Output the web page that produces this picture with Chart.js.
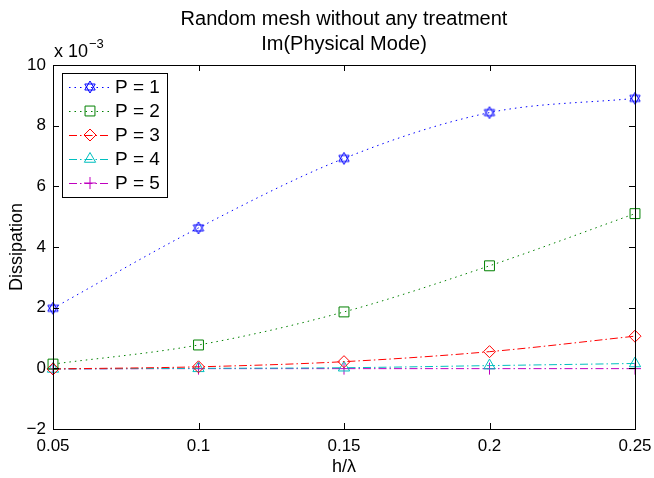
<!DOCTYPE html>
<html lang="en">

<head>
    <meta charset="UTF-8">
    <title>Random mesh without any treatment</title>
    <script src="https://cdn.jsdelivr.net/npm/chart.js"></script>
    <style>
        body { margin: 0; background: #fff; }
    </style>
</head>

<body>
    <canvas id="myChart" width="654" height="478"></canvas>

    <script>
        // data (dissipation in units of 1e-3)
        var hOverLambda = [0.05, 0.1, 0.15, 0.2, 0.25];
        var p1 = [1.98, 4.63, 6.92, 8.43, 8.90];
        var p2 = [0.14, 0.77, 1.86, 3.38, 5.10];
        var p3 = [-0.02, 0.05, 0.22, 0.55, 1.06];
        var p4 = [-0.02, 0.00, 0.02, 0.09, 0.16];
        var p5 = [-0.02, -0.01, -0.01, -0.01, -0.01];
        var seriesLabels = ['P = 1', 'P = 2', 'P = 3', 'P = 4', 'P = 5'];
        var xTicks = [0.05, 0.1, 0.15, 0.2, 0.25];
        var yTicks = [-2, 0, 2, 4, 6, 8, 10];
        var titleLines = ['Random mesh without any treatment', 'Im(Physical Mode)'];

        var FONT = 'Liberation Sans, Arial, Helvetica, sans-serif';

        // six-pointed star marker like matlab's 'h'
        function makeHexagram(color) {
            var c = document.createElement('canvas');
            c.width = 14; c.height = 14;
            var g = c.getContext('2d');
            g.strokeStyle = color;
            g.lineWidth = 1;
            [-90, 90].forEach(function (start) {
                g.beginPath();
                for (var k = 0; k < 3; k++) {
                    var a = (start + k * 120) * Math.PI / 180;
                    var px = 7 + 6 * Math.cos(a), py = 7 + 6 * Math.sin(a);
                    if (k === 0) g.moveTo(px, py); else g.lineTo(px, py);
                }
                g.closePath();
                g.stroke();
            });
            return c;
        }

        function toPoints(vals) {
            return vals.map(function (v, i) { return { x: hOverLambda[i], y: v }; });
        }

        function series(label, vals, color, dash, style, radius) {
            return {
                label: label,
                data: toPoints(vals),
                borderColor: color,
                borderWidth: 1,
                borderDash: dash,
                pointStyle: style,
                pointRadius: radius,
                pointBorderColor: color,
                pointBackgroundColor: 'rgba(0,0,0,0)',
                pointBorderWidth: 1,
                cubicInterpolationMode: 'monotone',
                fill: false,
                clip: false
            };
        }

        // inward ticks, box, exponent label and legend in the matlab way
        var matlabAxes = {
            id: 'matlabAxes',
            afterDatasetsDraw: function (chart) {
                var ctx = chart.ctx, a = chart.chartArea;
                var xs = chart.scales.x, ys = chart.scales.y;
                ctx.save();
                ctx.strokeStyle = '#000';
                ctx.lineWidth = 1;
                ctx.beginPath();
                xTicks.forEach(function (v) {
                    var px = Math.round(xs.getPixelForValue(v)) + 0.5;
                    ctx.moveTo(px, a.bottom); ctx.lineTo(px, a.bottom - 6);
                    ctx.moveTo(px, a.top); ctx.lineTo(px, a.top + 6);
                });
                yTicks.forEach(function (v) {
                    var py = Math.round(ys.getPixelForValue(v)) + 0.5;
                    ctx.moveTo(a.left, py); ctx.lineTo(a.left + 6, py);
                    ctx.moveTo(a.right, py); ctx.lineTo(a.right - 6, py);
                });
                ctx.stroke();
                ctx.strokeRect(Math.round(a.left) + 0.5, Math.round(a.top) + 0.5,
                    Math.round(a.right - a.left), Math.round(a.bottom - a.top));

                // x 10^-3
                ctx.fillStyle = '#000';
                ctx.textBaseline = 'alphabetic';
                ctx.textAlign = 'left';
                ctx.font = '18px ' + FONT;
                ctx.fillText('x 10', a.left + 1, a.top - 8);
                var w = ctx.measureText('x 10').width;
                ctx.font = '13px ' + FONT;
                ctx.fillText('\u22123', a.left + 1 + w + 1, a.top - 17);

                // legend
                var lx = a.left + 9, ly = a.top + 8, lw = 105, lh = 124;
                ctx.fillStyle = '#fff';
                ctx.fillRect(lx, ly, lw, lh);
                ctx.strokeStyle = '#000';
                ctx.strokeRect(lx + 0.5, ly + 0.5, lw, lh);
                chart.data.datasets.forEach(function (ds, i) {
                    var cy = ly + 14 + i * 24;
                    ctx.save();
                    ctx.strokeStyle = ds.borderColor;
                    ctx.lineWidth = 1;
                    ctx.setLineDash(ds.borderDash);
                    ctx.beginPath();
                    ctx.moveTo(lx + 7, cy + 0.5);
                    ctx.lineTo(lx + 48, cy + 0.5);
                    ctx.stroke();
                    ctx.setLineDash([]);
                    ctx.fillStyle = 'rgba(0,0,0,0)';
                    Chart.helpers.drawPoint(ctx, {
                        pointStyle: ds.pointStyle, radius: ds.pointRadius,
                        rotation: 0, borderWidth: 1
                    }, lx + 28, cy);
                    ctx.restore();
                    ctx.fillStyle = '#000';
                    ctx.font = '19px ' + FONT;
                    ctx.textBaseline = 'middle';
                    ctx.fillText(ds.label, lx + 53, cy + 1);
                });
                ctx.restore();
            }
        };

        var ctx = document.getElementById('myChart').getContext('2d');
        var myChart = new Chart(ctx, {
            type: 'line',
            data: {
                datasets: [
                    series(seriesLabels[0], p1, '#0000ff', [1.5, 4], makeHexagram('#0000ff'), 7),
                    series(seriesLabels[1], p2, '#008000', [1.5, 4], 'rect', 7),
                    series(seriesLabels[2], p3, '#ff0000', [8, 3, 1.5, 3], 'rectRot', 6),
                    series(seriesLabels[3], p4, '#00bfbf', [8, 3, 1.5, 3], 'triangle', 6.5),
                    series(seriesLabels[4], p5, '#bf00bf', [8, 3, 1.5, 3], 'cross', 6)
                ]
            },
            options: {
                responsive: false,
                animation: false,
                layout: { padding: { top: 0, right: 19, bottom: 0, left: 0 } },
                plugins: {
                    legend: { display: false },
                    tooltip: { enabled: false },
                    title: {
                        display: true,
                        fullSize: false,
                        text: titleLines,
                        color: '#000',
                        font: { family: FONT, size: 20, weight: 'normal', lineHeight: '25px' },
                        padding: { top: 6.5, bottom: 8.5 }
                    }
                },
                scales: {
                    x: {
                        type: 'linear',
                        min: 0.05,
                        max: 0.25,
                        afterBuildTicks: function (s) {
                            s.ticks = xTicks.map(function (v) { return { value: v }; });
                        },
                        afterFit: function (s) {
                            s.height = 49;
                            s.paddingLeft = 0;
                            s.paddingRight = 0;
                        },
                        grid: { display: false, drawTicks: false },
                        border: { display: false },
                        ticks: {
                            color: '#000',
                            padding: 7,
                            maxRotation: 0,
                            autoSkip: false,
                            font: { family: FONT, size: 17 },
                            callback: function (v) { return String(parseFloat(v.toFixed(2))); }
                        },
                        title: {
                            display: true,
                            text: 'h/\u03bb',
                            color: '#000',
                            font: { family: FONT, size: 18 },
                            padding: { top: 2, bottom: 0 }
                        }
                    },
                    y: {
                        min: -2,
                        max: 10,
                        afterBuildTicks: function (s) {
                            s.ticks = yTicks.map(function (v) { return { value: v }; });
                        },
                        afterFit: function (s) {
                            s.width = 53;
                            s.paddingTop = 0;
                            s.paddingBottom = 0;
                        },
                        grid: { display: false, drawTicks: false },
                        border: { display: false },
                        ticks: {
                            color: '#000',
                            padding: 7,
                            font: { family: FONT, size: 17 },
                            callback: function (v) { return String(v).replace('-', '\u2212'); }
                        },
                        title: {
                            display: true,
                            text: 'Dissipation',
                            color: '#000',
                            font: { family: FONT, size: 18 },
                            padding: { top: 6, bottom: 0 }
                        }
                    }
                }
            },
            plugins: [matlabAxes]
        });
    </script>
</body>

</html>
